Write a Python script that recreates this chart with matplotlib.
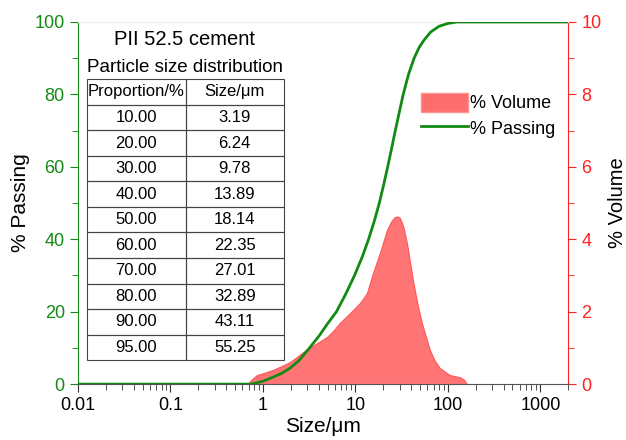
import numpy as np
import matplotlib
matplotlib.use("Agg")
import matplotlib.pyplot as plt
from matplotlib.ticker import FixedLocator, MultipleLocator, LogLocator, NullFormatter
from matplotlib.patches import Patch
from matplotlib.lines import Line2D

plt.rcParams['font.family'] = ['Liberation Sans', 'DejaVu Sans']

# cumulative passing curve (% passing vs size in um)
passing_size = [0.01, 0.75, 1.0, 1.28, 1.6, 1.96, 2.45, 3.19, 4.1, 5.0, 6.24,
                7.9, 9.78, 11.8, 13.89, 16.0, 18.14, 20.2, 22.35, 24.6, 27.01,
                29.8, 32.89, 37.5, 43.11, 49, 55.25, 65, 80, 100, 125, 2000]
passing_pct = [0, 0, 0.8, 1.9, 3.0, 4.4, 6.5, 10, 13.5, 16.7, 20,
               25, 30, 35, 40, 45, 50, 55, 60, 65, 70,
               75, 80, 85.5, 90, 93, 95, 97.2, 98.8, 99.6, 100, 100]

# volume density curve (% volume vs size in um)
volume_size = [0.69, 0.75, 0.86, 1.0, 1.28, 1.6, 1.96, 2.3, 2.71, 3.2, 3.84,
               4.92, 5.8, 6.79, 8.73, 11.2, 13.3, 15.5, 18.4, 21.9, 24.5, 26.7,
               28.5, 30.3, 33, 36.1, 41.9, 47, 52.4, 63.9, 72, 82, 105, 135,
               150, 160]
volume_pct = [0, 0.12, 0.25, 0.3, 0.39, 0.5, 0.61, 0.74, 0.88, 1.0, 1.13,
              1.30, 1.48, 1.69, 1.96, 2.24, 2.51, 3.07, 3.62, 4.25, 4.5, 4.61,
              4.63, 4.59, 4.35, 3.89, 2.87, 2.2, 1.68, 0.94, 0.65, 0.44, 0.25,
              0.19, 0.12, 0]

# table of characteristic sizes
table_prop = ["10.00", "20.00", "30.00", "40.00", "50.00",
              "60.00", "70.00", "80.00", "90.00", "95.00"]
table_size = ["3.19", "6.24", "9.78", "13.89", "18.14",
              "22.35", "27.01", "32.89", "43.11", "55.25"]

green = '#138a13'
red = '#ff2020'
fill_red = '#ff6e6e'

fig = plt.figure(figsize=(6.26, 4.40), dpi=100)
ax = fig.add_axes([0.1246, 0.127, 0.7830, 0.823])
ax2 = ax.twinx()

# volume on the right axis, drawn below the passing curve
ax2.fill_between(volume_size, volume_pct, 0, color=fill_red, alpha=0.95,
                 edgecolor='#ff5050', linewidth=0.8, zorder=1)
ax2.set_ylim(0, 10)
ax.set_zorder(ax2.get_zorder() + 1)
ax.patch.set_visible(False)

ax.plot(passing_size, passing_pct, color=green, linewidth=2, zorder=3)
ax.set_xscale('log')
ax.set_xlim(0.01, 2000)
ax.set_ylim(0, 100)

# left axis styling
ax.spines['left'].set_color(green)
ax.spines['bottom'].set_color('#555555')
ax.spines['top'].set_color('#eeeeee')
ax.spines['right'].set_visible(False)
ax.yaxis.set_major_locator(MultipleLocator(20))
ax.yaxis.set_minor_locator(MultipleLocator(10))
ax.tick_params(axis='y', which='both', colors=green, labelsize=13, direction='out')
ax.tick_params(axis='y', which='major', length=6)
ax.tick_params(axis='y', which='minor', length=4)
ax.xaxis.set_major_locator(FixedLocator([0.01, 0.1, 1, 10, 100, 1000]))
ax.xaxis.set_minor_locator(LogLocator(base=10, subs=np.arange(2, 10)))
ax.xaxis.set_minor_formatter(NullFormatter())
ax.set_xticklabels(['0.01', '0.1', '1', '10', '100', '1000'])
ax.tick_params(axis='x', which='both', colors='#333333', labelcolor='black',
               labelsize=13, direction='out')
ax.tick_params(axis='x', which='major', length=6)
ax.tick_params(axis='x', which='minor', length=4)
ax.set_xlabel('Size/μm', fontsize=15, labelpad=2)
ax.set_ylabel('% Passing', fontsize=15, labelpad=3)

# right axis styling
for s in ['left', 'top', 'bottom']:
    ax2.spines[s].set_visible(False)
ax2.spines['right'].set_color(red)
ax2.yaxis.set_major_locator(MultipleLocator(2))
ax2.yaxis.set_minor_locator(MultipleLocator(1))
ax2.tick_params(axis='y', which='both', colors=red, labelsize=13, direction='out')
ax2.tick_params(axis='y', which='major', length=6)
ax2.tick_params(axis='y', which='minor', length=4)
fig.text(0.986, 0.54, '% Volume', rotation=90, ha='center', va='center',
         fontsize=14.5)

# legend
handles = [Patch(facecolor=fill_red, edgecolor='#ff9090'),
           Line2D([0], [0], color=green, linewidth=2)]
ax.legend(handles, ['% Volume', '% Passing'], loc='upper left',
          bbox_to_anchor=(0.685, 0.825), frameon=False, fontsize=13,
          handlelength=2.6, handleheight=1.3, handletextpad=0.1,
          labelspacing=0.3, borderaxespad=0)

# title texts and table
ax.text(0.218, 0.952, 'PII 52.5 cement', transform=ax.transAxes,
        ha='center', va='center', fontsize=14.5)
ax.text(0.218, 0.873, 'Particle size distribution', transform=ax.transAxes,
        ha='center', va='center', fontsize=13.5)

cells = [[p, s] for p, s in zip(table_prop, table_size)]
tb = ax.table(cellText=cells, colLabels=['Proportion/%', 'Size/μm'],
              cellLoc='center',
              bbox=[0.0184, 0.066, 0.402, 0.776])
tb.auto_set_font_size(False)
tb.set_fontsize(12)
for (r, c), cell in tb.get_celld().items():
    cell.set_edgecolor('#444444')
    cell.set_linewidth(0.8)
    cell.set_facecolor('none')
tb.set_zorder(4)

fig.savefig('out.png', dpi=100)
